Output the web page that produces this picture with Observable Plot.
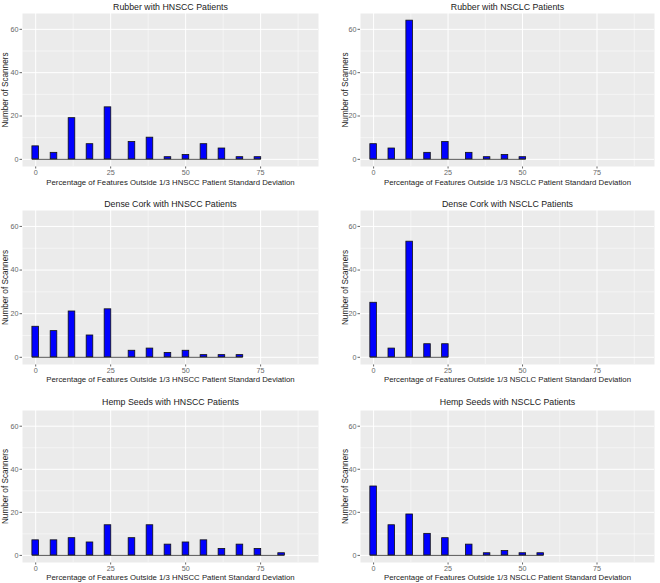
<!DOCTYPE html>
<html><head><meta charset="utf-8">
<script src="https://cdn.jsdelivr.net/npm/d3@7"></script>
<script src="https://cdn.jsdelivr.net/npm/@observablehq/plot@0.6"></script>
<style>
body{margin:0;background:#fff;width:660px;height:583px;position:relative;overflow:hidden;font-family:"Liberation Sans",Arial,sans-serif}
.panel{position:absolute}
</style></head><body>
<script>
// Bin centres (percentage of features)
const binCentres = [0, 6.1, 12.1, 18.1, 24.1, 32.1, 38.1, 44.1, 50.1, 56.1, 62.1, 68.1, 74.1, 82.0];
// Counts (number of scanners) per bin
const rubberHNSCC = [6, 3, 19, 7, 24, 8, 10, 1, 2, 7, 5, 1, 1];
const rubberNSCLC = [7, 5, 64, 3, 8, 3, 1, 2, 1];
const corkHNSCC   = [14, 12, 21, 10, 22, 3, 4, 2, 3, 1, 1, 1];
const corkNSCLC   = [25, 4, 53, 6, 6];
const hempHNSCC   = [7, 7, 8, 6, 14, 8, 14, 5, 6, 7, 3, 5, 3, 1];
const hempNSCLC   = [32, 14, 19, 10, 8, 5, 1, 2, 1, 1];
const titles = [
  "Rubber with HNSCC Patients", "Rubber with NSCLC Patients",
  "Dense Cork with HNSCC Patients", "Dense Cork with NSCLC Patients",
  "Hemp Seeds with HNSCC Patients", "Hemp Seeds with NSCLC Patients"
];
const xTitles = {
  HNSCC: "Percentage of Features Outside 1/3 HNSCC Patient Standard Deviation",
  NSCLC: "Percentage of Features Outside 1/3 NSCLC Patient Standard Deviation"
};
const yTitle = "Number of Scanners";
const xTicks = [0, 25, 50, 75];
const xMinor = [12.5, 37.5, 62.5, 87.5];
const yTicks = [0, 20, 40, 60];
const yMinor = [10, 30, 50];

const series = [rubberHNSCC, rubberNSCLC, corkHNSCC, corkNSCLC, hempHNSCC, hempNSCLC];
const cohort = ["HNSCC", "NSCLC", "HNSCC", "NSCLC", "HNSCC", "NSCLC"];

// layout per column / row
const cols = [{left: 0, ml: 22, mr: 12, yl: 5}, {left: 330, ml: 30, mr: 6, yl: 15}];
const rows = [
  {top: 0,   h: 195, mt: 13, mb: 29, tdy: -6, xdy: 15.5},
  {top: 195, h: 195, mt: 15, mb: 26, tdy: -6, xdy: 14.5},
  {top: 390, h: 193, mt: 20, mb: 21, tdy: -8, xdy: 14.5}
];
const halfW = 1.1;

series.forEach((vals, i) => {
  const c = cols[i % 2], r = rows[Math.floor(i / 2)];
  const data = vals.map((v, k) => ({x: binCentres[k], n: v}));
  const lo = data[0].x - halfW, hi = data[data.length - 1].x + halfW;
  const plot = Plot.plot({
    width: 330, height: r.h,
    marginLeft: c.ml, marginRight: c.mr, marginTop: r.mt, marginBottom: r.mb,
    style: {fontFamily: '"Liberation Sans", Arial, sans-serif', fontSize: "7.2px", color: "#666", background: "transparent", overflow: "visible"},
    x: {domain: [-4.4, 94.3], ticks: xTicks, tickSize: 2.5, tickPadding: 1, label: null},
    y: {domain: [-3.3, 67.3], ticks: yTicks, tickSize: 2.5, tickPadding: 1.5, label: null},
    marks: [
      Plot.frame({fill: "#ebebeb", stroke: null}),
      Plot.ruleX(xMinor, {stroke: "#fff", strokeWidth: 0.5, strokeOpacity: 1}),
      Plot.ruleY(yMinor, {stroke: "#fff", strokeWidth: 0.5, strokeOpacity: 1}),
      Plot.ruleX(xTicks, {stroke: "#fff", strokeWidth: 1, strokeOpacity: 1}),
      Plot.ruleY(yTicks, {stroke: "#fff", strokeWidth: 1, strokeOpacity: 1}),
      Plot.ruleY([{y: 0, x1: lo, x2: hi}], {y: "y", x1: "x1", x2: "x2", stroke: "#555", strokeWidth: 1}),
      Plot.rectY(data, {x1: d => d.x - halfW, x2: d => d.x + halfW, y1: 0, y2: "n", fill: "#0000ff", stroke: "#111", strokeWidth: 0.8}),
      Plot.text([titles[i]], {frameAnchor: "top", dy: r.tdy, fontSize: 8.8, fill: "#222", lineAnchor: "middle", textAnchor: "middle"}),
      Plot.text([xTitles[cohort[i]]], {frameAnchor: "bottom", dy: r.xdy + 0.5, fontSize: 7.8, fill: "#222", lineAnchor: "middle", textAnchor: "middle"}),
      Plot.text([yTitle], {frameAnchor: "left", dx: -(c.ml - c.yl), rotate: -90, fontSize: 8.2, fill: "#222", lineAnchor: "middle", textAnchor: "middle"})
    ]
  });
  plot.classList.add("panel");
  plot.style.left = c.left + "px";
  plot.style.top = r.top + "px";
  document.body.appendChild(plot);
});
</script>
</body></html>
